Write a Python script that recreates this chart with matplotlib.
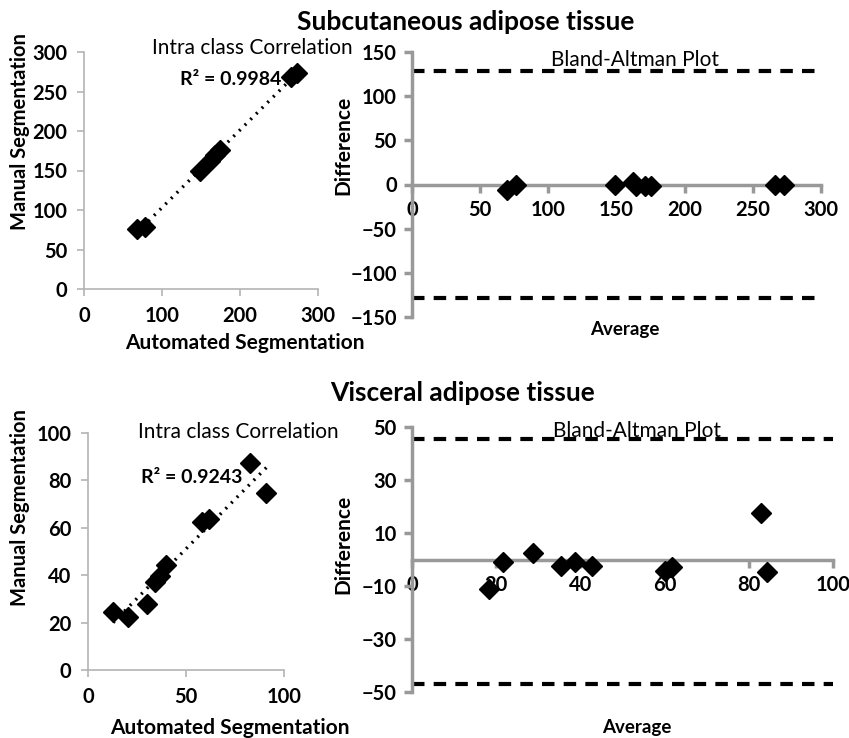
import numpy as np
import matplotlib.pyplot as plt

plt.rcParams['font.family'] = ['Lato', 'DejaVu Sans']

# Subcutaneous adipose tissue: automated vs manual
sat_auto = [68, 78, 149, 162, 168, 174, 266, 273]
sat_manual = [76, 79, 149, 162, 170, 176, 268, 273]
# Bland-Altman (average, difference)
sat_avg = [70, 76, 149, 162, 164, 171, 175, 266, 273]
sat_diff = [-6, 0, 0, 3, -2, -2, -2, 0, -1]
sat_limits = [128, -129]

# Visceral adipose tissue
vat_auto = [12.8, 20.4, 30, 34, 36.7, 40, 58, 61.7, 82.7, 91]
vat_manual = [24.5, 22.4, 27.8, 37, 39.7, 44.3, 62.4, 63.7, 87.3, 74.7]
vat_avg = [18.3, 21.6, 28.8, 35.4, 38.7, 42.8, 60.1, 61.8, 82.9, 84.3]
vat_diff = [-11.3, -1.1, 2.3, -2.3, -1.1, -2.3, -4.5, -3, 17.4, -4.9]
vat_limits = [45.5, -47]

W, H = 849, 738
fig = plt.figure(figsize=(W / 100, H / 100), dpi=100)


def box(l, t, r, b):
    return [l / W, 1 - b / H, (r - l) / W, (b - t) / H]


def scatter_panel(rect, x, y, lim, step, r2, r2pos, ttlpos):
    ax = fig.add_axes(rect)
    ax.plot(x, y, 'D', color='black', markersize=10.5)
    k, c = np.polyfit(x, y, 1)
    xs = np.array([min(x), max(x)])
    ax.plot(xs, k * xs + c, color='black', lw=2.4, ls=(0, (0.6, 1.8)))
    ax.set_xlim(0, lim)
    ax.set_ylim(0, lim)
    ax.set_xticks(np.arange(0, lim + 1, lim // 2 if lim == 100 else 100))
    ax.set_yticks(np.arange(0, lim + 1, step))
    for s in ['top', 'right']:
        ax.spines[s].set_visible(False)
    for s in ['left', 'bottom']:
        ax.spines[s].set_color('#b4b4b4')
        ax.spines[s].set_linewidth(1.2)
    ax.tick_params(colors='#b4b4b4', length=5, width=1.2, labelcolor='black',
                   labelsize=14.5, pad=7)
    for t in ax.get_xticklabels() + ax.get_yticklabels():
        t.set_fontweight('bold')
    ax.text(r2pos[0], r2pos[1], r2, transform=ax.transAxes, ha='center',
            va='center', fontsize=14, fontweight='bold')
    ax.text(ttlpos[0], ttlpos[1], 'Intra class Correlation', transform=ax.transAxes,
            ha='center', va='center', fontsize=15)
    return ax


def ba_panel(rect, avg, diff, xlim, xstep, ylim, ystep, limits, ttlpos):
    ax = fig.add_axes(rect)
    for v in limits:
        ax.plot([0, xlim], [v, v], color='black', lw=3, ls=(0, (3, 2.2)))
    ax.plot(avg, diff, 'D', color='black', markersize=10.5, zorder=5)
    ax.set_xlim(0, xlim)
    ax.set_ylim(-ylim, ylim)
    ax.set_xticks(np.arange(0, xlim + 1, xstep))
    ax.set_yticks(np.arange(-ylim, ylim + 1, ystep))
    for s in ['top', 'right']:
        ax.spines[s].set_visible(False)
    ax.spines['bottom'].set_position(('data', 0))
    for s in ['left', 'bottom']:
        ax.spines[s].set_color('#999999')
        ax.spines[s].set_linewidth(2.5)
    ax.tick_params(colors='#999999', length=6, width=2.5, labelcolor='black',
                   labelsize=14.5, pad=5)
    for t in ax.get_xticklabels() + ax.get_yticklabels():
        t.set_fontweight('bold')
    ax.text(ttlpos[0], ttlpos[1], 'Bland-Altman Plot', transform=ax.transAxes,
            ha='center', va='center', fontsize=15)
    return ax


scatter_panel(box(84, 52, 318, 289), sat_auto, sat_manual, 300, 50,
              'R² = 0.9984', (0.625, 0.882), (0.718, 1.017))
ba_panel(box(412, 52, 821, 317), sat_avg, sat_diff, 300, 50, 150, 50,
         sat_limits, (0.545, 0.97))
scatter_panel(box(88, 433, 284, 670), vat_auto, vat_manual, 100, 20,
              'R² = 0.9243', (0.53, 0.814), (0.765, 1.004))
ba_panel(box(412, 427, 833, 692), vat_avg, vat_diff, 100, 20, 50, 20,
         vat_limits, (0.534, 0.985))

def ftext(x, y, s, **kw):
    fig.text(x / W, 1 - y / H, s, ha='center', va='center', **kw)

ftext(466, 22, 'Subcutaneous adipose tissue', fontsize=19, fontweight='bold')
ftext(463, 393, 'Visceral adipose tissue', fontsize=19, fontweight='bold')
ftext(20, 132, 'Manual Segmentation', fontsize=14.5, fontweight='bold', rotation=90)
ftext(20, 508, 'Manual Segmentation', fontsize=14.5, fontweight='bold', rotation=90)
ftext(245, 343, 'Automated Segmentation', fontsize=15, fontweight='bold')
ftext(230, 728, 'Automated Segmentation', fontsize=15, fontweight='bold')
ftext(343, 145, 'Difference', fontsize=15, fontweight='bold', rotation=90)
ftext(343, 544, 'Difference', fontsize=15, fontweight='bold', rotation=90)
ftext(625, 330, 'Average', fontsize=13.5, fontweight='bold')
ftext(637, 727, 'Average', fontsize=13.5, fontweight='bold')

fig.savefig('out.png', dpi=100)
